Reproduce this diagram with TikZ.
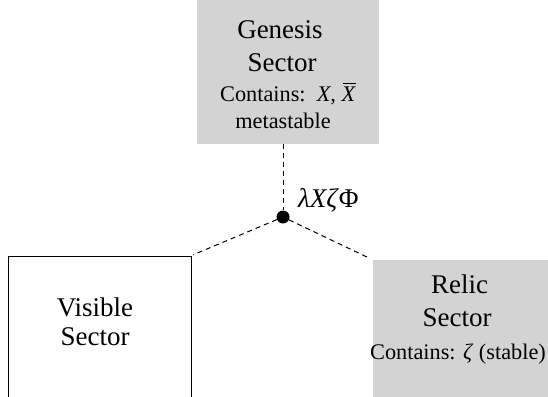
\documentclass[tikz,border=0pt]{standalone}
\usepackage{fontspec}
\setmainfont{Liberation Serif}
\definecolor{boxgray}{RGB}{211,211,211}
\newcommand\barX{\textit{X}\llap{\raisebox{0.74em}{\rule{0.56em}{0.045em}}\hspace{0.01em}}}
\tikzset{
  graybox/.style={fill=boxgray, draw=none, inner sep=0pt},
  whitebox/.style={fill=white, draw=black, line width=1pt, inner sep=0pt},
  title/.style={anchor=base, inner sep=0pt, font=\fontsize{27}{32}\selectfont},
  sub/.style={anchor=base, inner sep=0pt, font=\fontsize{22.3}{26}\selectfont},
  link/.style={draw=black, dash pattern=on 5pt off 4pt, line width=1pt},
  vertex/.style={circle, fill=black, inner sep=0pt, minimum size=13pt}
}
\begin{document}
\begin{tikzpicture}[x=1pt,y=-1pt]
\useasboundingbox (0,0) rectangle (548,396);
\clip (0,0) rectangle (548,396);
% boxes
\node[graybox, minimum width=182pt, minimum height=144pt] (genesis) at (288,72) {};
\node[whitebox, minimum width=183pt, minimum height=184pt] (visible) at (99.5,348) {};
\node[graybox, minimum width=227pt, minimum height=180pt] (relic) at (486.5,350) {};
% vertex
\node[vertex] (v) at (283,217) {};
% connectors
\draw[link] (v |- genesis.south) -- (v);
\draw[link, shorten >=2pt] (v) -- (visible.north east);
\draw[link, shorten >=4pt] (v) -- (relic.north west);
% label
\node[anchor=base west, inner sep=0pt, font=\fontsize{27}{32}\selectfont] (lab) at (298,207) {\textit{λXζ}Φ};
% genesis text
\node[title] (g1) at (280,38) {Genesis};
\node[title] (g2) at (282,71) {Sector};
\node[sub] (g3) at (288,101) {Contains:\ \ \textit{X}, \barX};
\node[sub] (g4) at (283,128) {metastable};
% visible text
\node[title] (vi1) at (95,316) {Visible};
\node[title] (vi2) at (95,345) {Sector};
% relic text
\node[title] (r1) at (459.5,293) {Relic};
\node[title] (r2) at (457,326) {Sector};
\node[sub] (r3) at (458,359) {Contains: \textit{ζ} (stable)};
\end{tikzpicture}
\end{document}
